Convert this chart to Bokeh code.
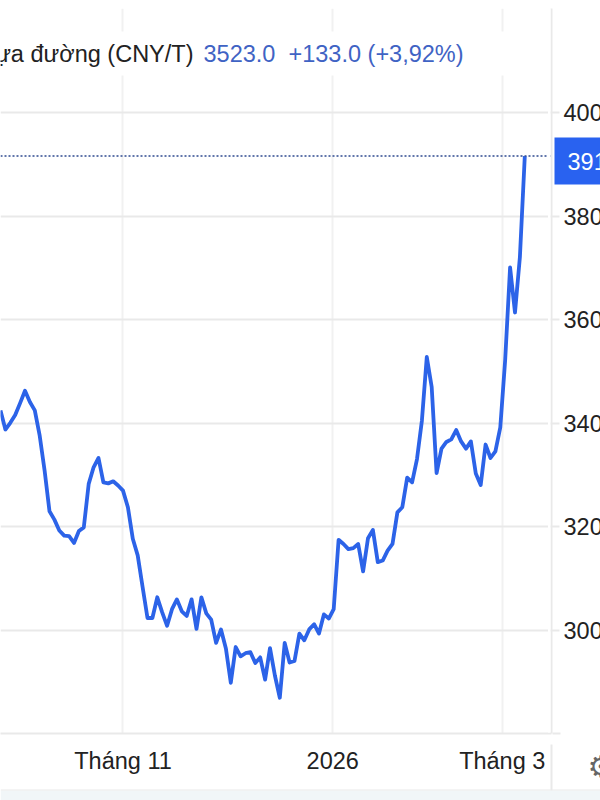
from bokeh.plotting import figure
from bokeh.embed import file_html
from bokeh.resources import INLINE
from bokeh.layouts import column
from bokeh.models import Range1d, LinearAxis, FixedTicker, Span, Label, BoxAnnotation

series_name = "Nhựa đường (CNY/T)"
quote_price = "3523.0"
quote_change = "+133.0 (+3,92%)"
last_label = "3916"
y_ticks = [3000, 3200, 3400, 3600, 3800, 4000]
x_ticks = [25.0, 67.8, 102.4]
x_labels = {25.0: "Tháng 11", 67.8: "2026", 102.4: "Tháng 3"}
prices = [
    3425, 3388, 3401, 3416, 3439, 3463, 3441, 3425, 3376, 3309, 3230, 3214,
    3193, 3183, 3182, 3169, 3192, 3199, 3283, 3315, 3333, 3286, 3284, 3288,
    3280, 3270, 3238, 3177, 3145, 3084, 3024, 3024, 3064, 3035, 3009, 3041,
    3060, 3037, 3028, 3060, 3003, 3064, 3033, 3021, 2976, 3002, 2965, 2899,
    2968, 2950, 2956, 2958, 2937, 2948, 2905, 2966, 2913, 2870, 2976, 2938,
    2941, 2994, 2981, 3002, 3012, 2994, 3031, 3023, 3041, 3175, 3167, 3157,
    3159, 3167, 3114, 3178, 3194, 3132, 3135, 3154, 3167, 3228, 3238, 3295,
    3286, 3331, 3405, 3528, 3470, 3304, 3351, 3364, 3369, 3387, 3365, 3351,
    3365, 3303, 3281, 3359, 3333, 3346, 3392, 3523, 3701, 3614, 3721, 3916,
]

BLUE = "#2c63e8"
GRID = "#e9e9e9"
VGRID = "#f1f1f1"
INK = "#222222"
QUOTE = "#3f63c4"
FONT = "Liberation Sans"
SIZE = "23.5px"

p = figure(
    width=600, height=800, frame_width=551, frame_height=725,
    output_backend="svg", toolbar_location=None,
    x_range=Range1d(0, 112.45), y_range=Range1d(2801, 4201),
    x_axis_location="below", y_axis_location=None,
    min_border_left=0, min_border_right=49, min_border_top=8, min_border_bottom=67,
    background_fill_color="white", border_fill_color="white",
    outline_line_color=None,
)

ax = p.xaxis[0]
ax.ticker = FixedTicker(ticks=x_ticks)
ax.major_label_overrides = x_labels
ax.major_tick_line_color = None
ax.minor_tick_line_color = None
ax.axis_line_color = GRID
ax.axis_line_width = 2
ax.major_label_text_font = FONT
ax.major_label_text_font_size = SIZE
ax.major_label_text_color = INK
ax.major_label_standoff = 8

ay = LinearAxis(ticker=FixedTicker(ticks=y_ticks))
ay.minor_tick_line_color = None
ay.axis_line_color = GRID
ay.axis_line_width = 2
ay.major_tick_line_color = GRID
ay.major_tick_line_width = 2
ay.major_tick_in = 0
ay.major_tick_out = 8
ay.major_label_standoff = 4
ay.major_label_text_font = FONT
ay.major_label_text_font_size = SIZE
ay.major_label_text_color = INK
ay.major_label_orientation = "horizontal"
ay.major_label_text_align = "left"
p.add_layout(ay, "right")

p.xgrid.ticker = FixedTicker(ticks=x_ticks)
p.ygrid.ticker = FixedTicker(ticks=y_ticks)
p.xgrid.grid_line_color = VGRID
p.ygrid.grid_line_color = GRID
for g in (p.xgrid, p.ygrid):
    g.grid_line_width = 2

p.line(list(range(len(prices))), prices, line_color=BLUE, line_width=3.8, line_join="round")
p.add_layout(Span(location=prices[-1], dimension="width", line_color="#2f4a90", line_width=1.5,
                  line_dash="2 2", level="overlay"))

# transparent sheet over the whole canvas: quote line, price tag, footer
o = figure(
    width=600, height=800, frame_width=600, frame_height=800,
    output_backend="svg", toolbar_location=None,
    x_range=Range1d(0, 600), y_range=Range1d(800, 0),
    x_axis_location=None, y_axis_location=None,
    min_border=0, min_border_left=0, min_border_right=0, min_border_top=0, min_border_bottom=0,
    background_fill_alpha=0, border_fill_alpha=0,
    outline_line_color=None, margin=(-800, 0, 0, 0),
)
o.grid.visible = False


def box(left, right, top, bottom, color):
    o.add_layout(BoxAnnotation(left=left, right=right, top=top, bottom=bottom,
                               fill_color=color, fill_alpha=1, line_color=None))


box(0, 515, 31, 75, "white")      # band masking the grid behind the quote
box(547.5, 550, 8, 732, "white")  # small gap between the grid and the price axis
box(550, 552, 744, 790, GRID)
box(552, 560, 732, 734, GRID)
box(0, 600, 790, 800, "#f1f6f8")
box(0, 600, 789, 790, GRID)
box(554, 600, 137, 184, "#2962f0")

for x, text, color, align in [(193, series_name, INK, "right"),
                              (203, quote_price, QUOTE, "left"),
                              (288, quote_change, QUOTE, "left")]:
    o.add_layout(Label(x=x, y=53, text=text, text_color=color, text_align=align,
                       text_font=FONT, text_font_size=SIZE, text_baseline="middle"))
o.add_layout(Label(x=567, y=161, text=last_label, text_color="white",
                   text_font=FONT, text_font_size=SIZE, text_baseline="middle"))
o.add_layout(Label(x=587, y=766, text="\u2699", text_color="#666666",
                   text_font="DejaVu Sans", text_font_size="30px", text_baseline="middle"))

open("out.html", "w").write(file_html(column(p, o, spacing=0), INLINE))
